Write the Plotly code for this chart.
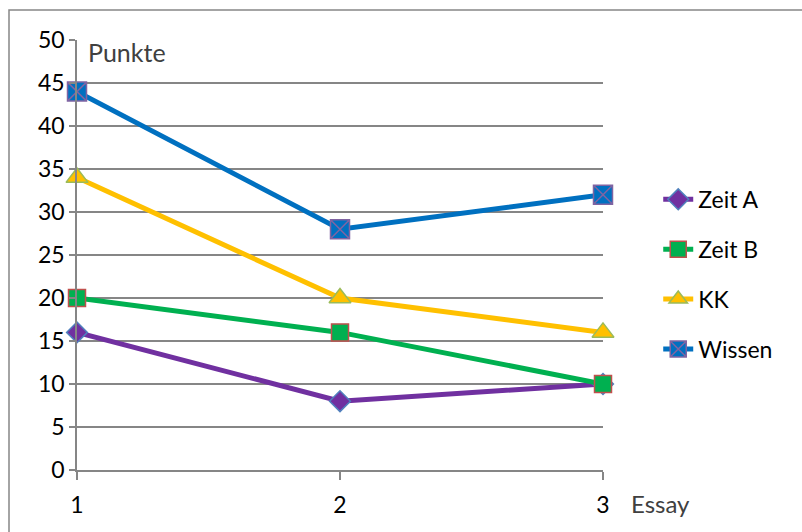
import plotly.graph_objects as go

essays = [1, 2, 3]
zeit_a = [16, 8, 10]
zeit_b = [20, 16, 10]
kk = [34, 20, 16]
wissen = [44, 28, 32]
y_ticks = [0, 5, 10, 15, 20, 25, 30, 35, 40, 45, 50]

FONT = "Lato"
FS = 23
fig = go.Figure()

series = [
    ("Zeit A", zeit_a, "#7030A0", "diamond", 16, "#4F81BD"),
    ("Zeit B", zeit_b, "#00B050", "square", 17, "#C0504D"),
    ("KK", kk, "#FFC000", "triangle-up", 19, "#9BBB59"),
    ("Wissen", wissen, "#0070C0", "square-x", 19, "#8064A2"),
]
for name, vals, col, sym, size, lcol in series:
    fig.add_trace(go.Scatter(
        x=essays, y=vals, name=name, mode="lines+markers", legendgroup=name,
        line=dict(color=col, width=5),
        marker=dict(symbol=sym, size=size, color=col, line=dict(color=lcol, width=1.5)),
        cliponaxis=False,
    ))

fig.update_layout(
    width=802, height=532,
    margin=dict(l=77, r=199, t=40, b=62),
    paper_bgcolor="white", plot_bgcolor="white",
    font=dict(family=FONT, size=FS, color="black"),
    showlegend=True,
    legend=dict(x=1.105, y=0.455, xanchor="left", yanchor="middle",
                font=dict(family=FONT, size=FS, color="black"),
                tracegroupgap=17, bgcolor="rgba(0,0,0,0)"),
    xaxis=dict(range=[1, 3], tickvals=essays, ticktext=[str(e) for e in essays],
               showgrid=False, showline=True, linecolor="#868686", linewidth=1.5,
               ticks="outside", ticklen=8, tickcolor="#868686", tickwidth=1.5,
               zeroline=False, tickfont=dict(size=FS), ticklabelstandoff=6),
    yaxis=dict(range=[0, 50], tickvals=y_ticks, showgrid=True, gridcolor="#868686",
               gridwidth=1.5, showline=True, linecolor="#868686", linewidth=1.5,
               ticks="outside", ticklen=6, tickcolor="#868686", tickwidth=1.5,
               zeroline=False, tickfont=dict(size=FS)),
)

fig.add_annotation(xref="paper", yref="paper", x=0.018, y=1.012, text="Punkte",
                   showarrow=False, xanchor="left", yanchor="top",
                   font=dict(family=FONT, size=25, color="#404040"))
fig.add_annotation(xref="paper", yref="paper", x=1.05, y=-0.04, text="Essay",
                   showarrow=False, xanchor="left", yanchor="top",
                   font=dict(family=FONT, size=24, color="#404040"))

fig.add_shape(type="rect", xref="paper", yref="paper",
              x0=-68/526, x1=1 + 250/526, y0=-150/430, y1=1 + 30/430,
              line=dict(color="#868686", width=1.5), fillcolor="rgba(0,0,0,0)", layer="below")

fig.write_html("out.html")
